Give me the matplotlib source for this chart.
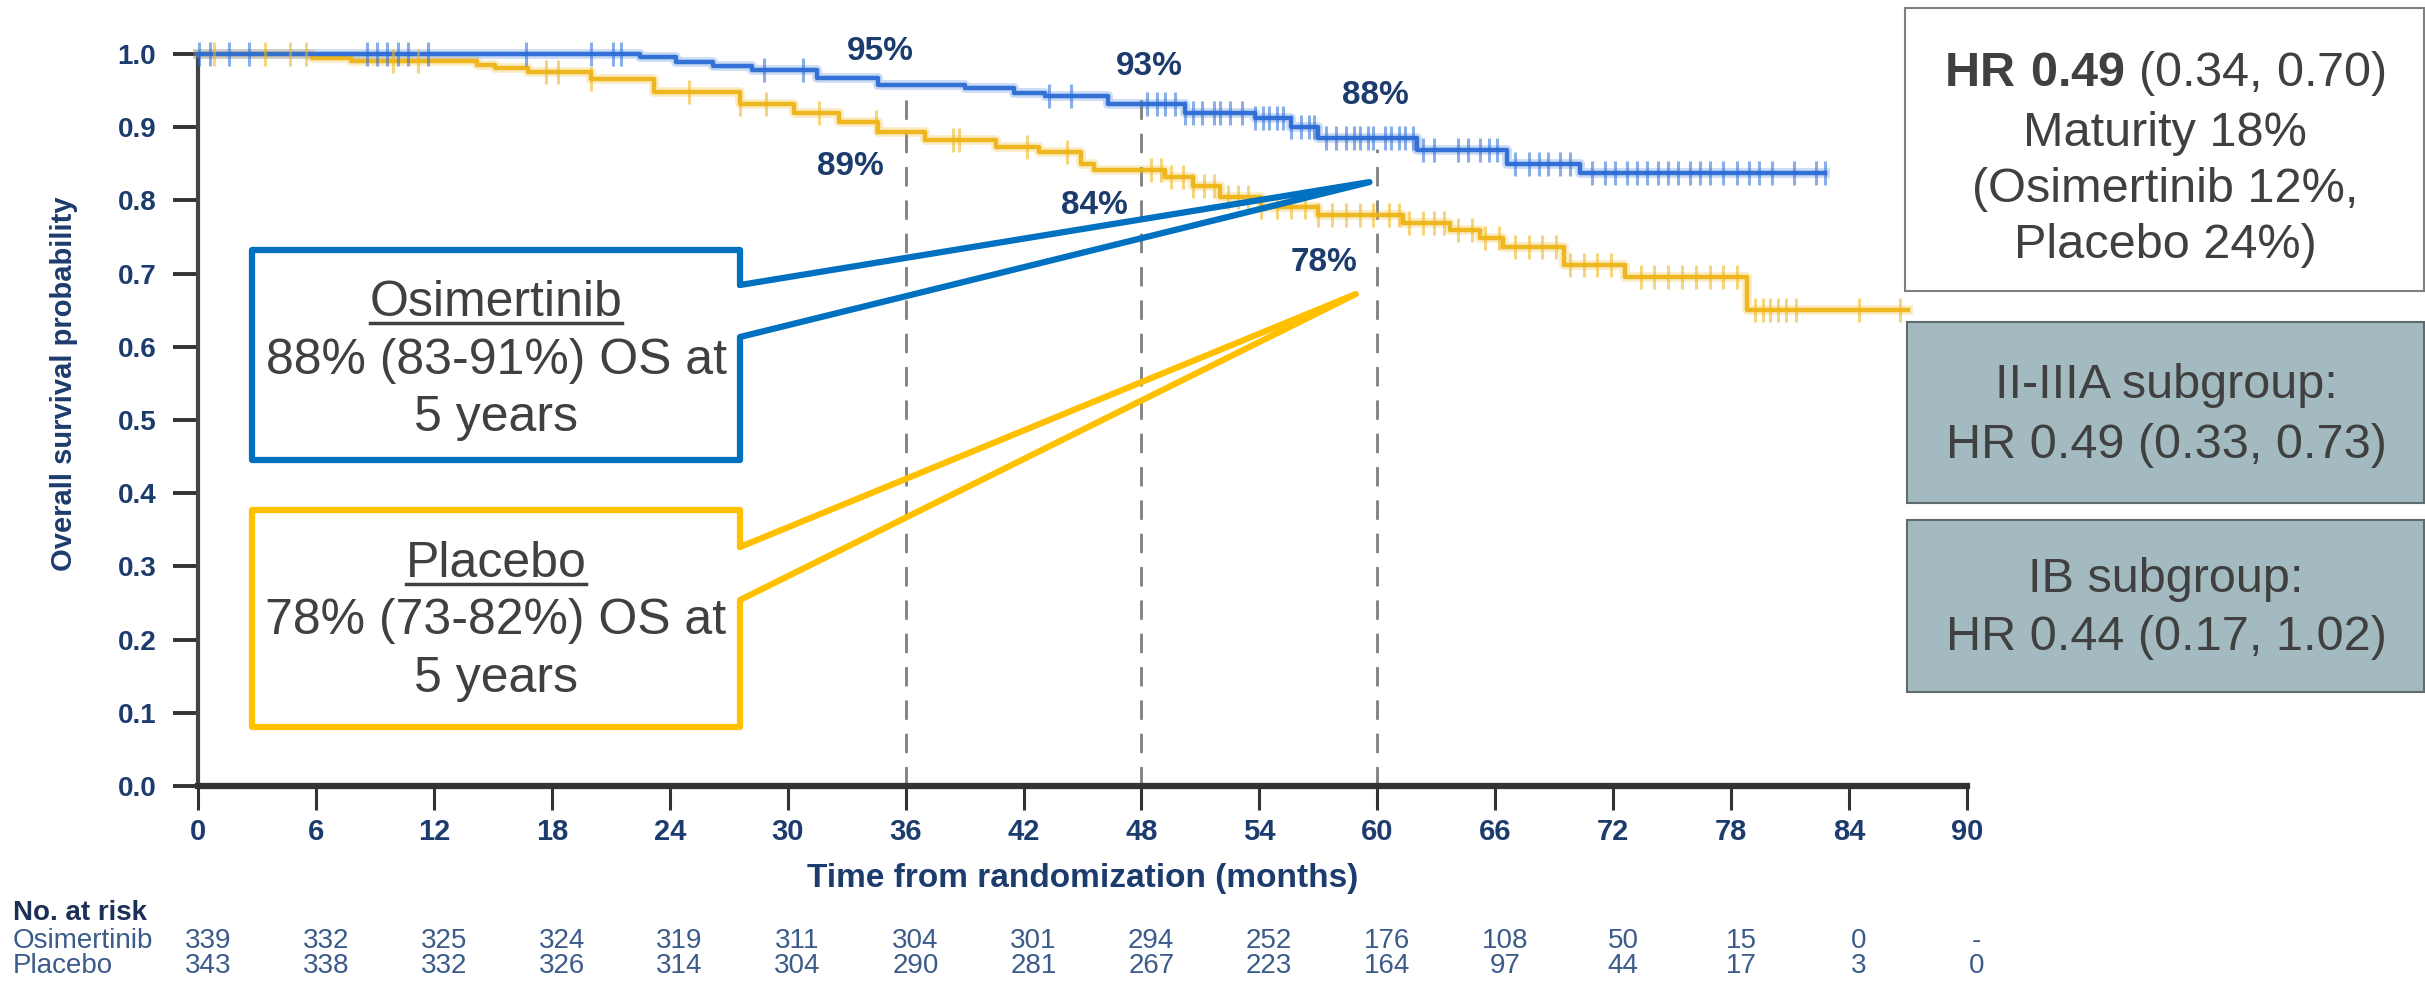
import numpy as np
import matplotlib
matplotlib.use("Agg")
import matplotlib.pyplot as plt
from matplotlib import font_manager
from matplotlib.lines import Line2D
from matplotlib.patches import Rectangle

# --- fonts ---
names = {f.name for f in font_manager.fontManager.ttflist}
SANS = "Liberation Sans" if "Liberation Sans" in names else "DejaVu Sans"
plt.rcParams["font.family"] = [SANS, "DejaVu Sans"]
plt.rcParams["mathtext.fontset"] = "custom"
plt.rcParams["mathtext.rm"] = SANS
plt.rcParams["mathtext.bf"] = SANS + ":bold"

# --- DATA ---
osi_t = [0, 22.5, 24.3, 26.2, 28.2, 31.5, 34.6, 39.0, 41.5, 43.1, 46.3, 50.2, 53.8, 55.6, 57.0, 62.0, 66.6, 70.3]
osi_p = [1.0, 0.996, 0.989, 0.983, 0.978, 0.967, 0.958, 0.954, 0.947, 0.942, 0.932, 0.920, 0.912, 0.900, 0.885, 0.869, 0.850, 0.837]
osi_end = 82.8
osi_cens = [0.05, 0.6, 1.6, 2.6, 8.6, 9.1, 9.6, 10.2, 10.7, 11.7, 16.7, 20.0, 21.1, 21.5, 28.8, 30.8,
            43.3, 44.4, 48.3, 48.8, 49.2, 49.7, 50.2, 50.6, 51.1, 51.7, 52.0, 52.5, 53.1, 53.8, 54.2,
            54.5, 54.9, 55.2, 55.6, 56.1, 56.5, 56.8, 57.4, 57.9, 58.4, 58.8, 59.1, 59.5, 59.8, 60.4,
            60.7, 61.1, 61.4, 61.8, 62.3, 62.9, 64.1, 64.6, 65.2, 65.7, 66.1, 67.0, 67.7, 68.2, 68.7,
            69.3, 69.8, 70.9, 71.6, 72.1, 72.7, 73.2, 73.7, 74.3, 74.8, 75.3, 75.9, 76.4, 76.9, 77.6,
            78.3, 78.9, 79.4, 80.1, 81.2, 82.3, 82.8]

pla_t = [0, 5.8, 7.8, 14.2, 15.1, 16.8, 20.0, 23.2, 27.6, 30.3, 32.6, 34.6, 37.0, 40.6, 42.8, 44.9,
         45.6, 49.2, 50.6, 52.0, 54.1, 57.0, 61.3, 63.7, 65.2, 66.4, 69.5, 72.6, 78.8]
pla_p = [1.0, 0.995, 0.990, 0.985, 0.981, 0.976, 0.966, 0.948, 0.932, 0.920, 0.907, 0.894, 0.882, 0.873,
         0.866, 0.850, 0.842, 0.832, 0.819, 0.805, 0.791, 0.780, 0.769, 0.760, 0.748, 0.737, 0.712, 0.696, 0.650]
pla_end = 87.0
pla_cens = [0.8, 3.4, 4.7, 5.5, 9.9, 11.2, 17.7, 18.3, 20.0, 25.0, 27.6, 28.9, 31.6, 34.5, 38.4, 38.7,
            42.2, 44.2, 48.5, 49.0, 49.5, 50.1, 50.6, 51.2, 51.7, 52.4, 52.9, 53.4, 54.1, 54.9, 55.6,
            56.3, 57.0, 57.7, 58.4, 59.1, 59.8, 60.6, 61.1, 61.6, 62.3, 62.9, 63.4, 64.1, 64.8, 65.5,
            66.2, 67.0, 67.7, 68.4, 69.1, 69.8, 70.5, 71.2, 71.9, 73.4, 74.1, 74.8, 75.5, 76.2, 76.9,
            77.6, 78.3, 79.2, 79.6, 80.0, 80.4, 80.8, 81.3, 84.5, 86.6]

landmark_months = [36, 48, 60]
landmark_tops = [0.95, 0.955, 0.87]
osi_labels = ["95%", "93%", "88%"]
pla_labels = ["89%", "84%", "78%"]
osi_label_pos = [(34.7, 1.004), (48.4, 0.983), (59.9, 0.943)]
pla_label_pos = [(33.2, 0.846), (45.6, 0.793), (57.3, 0.715)]

risk_months = list(range(0, 91, 6))
risk_osi = ["339", "332", "325", "324", "319", "311", "304", "301", "294", "252", "176", "108", "50", "15", "0", "-"]
risk_pla = ["343", "338", "332", "326", "314", "304", "290", "281", "267", "223", "164", "97", "44", "17", "3", "0"]

# --- colours ---
BLUE = "#2b6cd6"
GOLD = "#efb416"
BOX_BLUE = "#0070c0"
BOX_GOLD = "#ffc000"
NAVY = "#1d3c6e"
RISK = "#3b5b8a"
GREY_TXT = "#404040"

W, H = 2425, 989
fig = plt.figure(figsize=(W / 100, H / 100), dpi=100)


def fx(x):
    return x / W


def fy(y):
    return 1 - y / H


ax = fig.add_axes([fx(198), fy(786), fx(1967) - fx(198), fy(54) - fy(786)])


def km(ax, t, p, end, cens, color):
    xs = list(t) + [end]
    ys = list(p) + [p[-1]]
    ax.step(xs, ys, where="post", color=color, lw=7, alpha=0.25, clip_on=False, zorder=3)
    ax.step(xs, ys, where="post", color=color, lw=3.2, alpha=0.95, clip_on=False, zorder=4)
    idx = np.searchsorted(t, cens, side="right") - 1
    cy = np.array(p)[idx]
    ax.plot(cens, cy, ls="none", marker="|", ms=17, mew=2.2, color=color, alpha=0.55,
            clip_on=False, zorder=5)


km(ax, pla_t, pla_p, pla_end, pla_cens, GOLD)
km(ax, osi_t, osi_p, osi_end, osi_cens, BLUE)

for m, top in zip(landmark_months, landmark_tops):
    ax.plot([m, m], [0, top], color="#7f7f7f", lw=2, dashes=(7, 5), zorder=2)

for lab, (x, y) in zip(osi_labels + pla_labels, osi_label_pos + pla_label_pos):
    ax.text(x, y, lab, ha="center", va="center", fontsize=24, fontweight="bold", color=NAVY, zorder=6)

ax.set_xlim(0, 90)
ax.set_ylim(0, 1.0)
ax.set_xticks(risk_months)
ax.set_yticks(np.arange(0, 1.01, 0.1))
ax.set_yticklabels([f"{v:.1f}" for v in np.arange(0, 1.01, 0.1)])
for s in ["top", "right"]:
    ax.spines[s].set_visible(False)
ax.spines["left"].set_linewidth(3)
ax.spines["left"].set_color("#444444")
ax.spines["bottom"].set_linewidth(4.5)
ax.spines["bottom"].set_color("#333333")
ax.tick_params(axis="y", length=18, width=2.8, color="#333333", pad=12,
               labelsize=20, labelcolor=NAVY)
ax.tick_params(axis="x", length=17, width=2.2, color="#333333", pad=6,
               labelsize=21, labelcolor=NAVY)
for lab in ax.get_xticklabels() + ax.get_yticklabels():
    lab.set_fontweight("bold")
ax.set_xlabel("Time from randomization (months)", fontsize=24, fontweight="bold", color=NAVY, labelpad=12)
ax.set_ylabel("Overall survival probability", fontsize=21, fontweight="bold", color=NAVY, labelpad=22)
ax.yaxis.set_label_coords(-0.068, 0.55)

# --- number at risk ---
fig.text(fx(13), fy(913), "No. at risk", fontsize=20, fontweight="bold", color="#1c2f55", va="center")
fig.text(fx(13), fy(941), "Osimertinib", fontsize=20, color=RISK, va="center")
fig.text(fx(13), fy(966), "Placebo", fontsize=20, color=RISK, va="center")
for m, a, b in zip(risk_months, risk_osi, risk_pla):
    xf = fig.transFigure.inverted().transform(ax.transData.transform((m + 0.5, 0)))[0]
    fig.text(xf, fy(941), a, fontsize=20, color=RISK, ha="center", va="center")
    fig.text(xf, fy(966), b, fontsize=20, color=RISK, ha="center", va="center")


# --- callout boxes ---
def callout(x0, x1, y0, y1, n0, n1, tip, color):
    pts = [(x1, n0), (x1, y0), (x0, y0), (x0, y1), (x1, y1), (x1, n1), tip, (x1, n0)]
    xs = [fx(px) for px, _ in pts]
    ys = [fy(py) for _, py in pts]
    fig.add_artist(Line2D(xs, ys, color=color, lw=4.5, solid_joinstyle="round",
                          solid_capstyle="round", zorder=8))


tip_osi = ax.transData.transform((59.6, 0.825))
tip_pla = ax.transData.transform((58.9, 0.672))
tip_osi = (tip_osi[0], H - tip_osi[1])
tip_pla = (tip_pla[0], H - tip_pla[1])
callout(252, 740, 250, 460, 285, 337, tip_osi, BOX_BLUE)
callout(252, 740, 510, 727, 547, 600, tip_pla, BOX_GOLD)

heads = []
for name, line, ys in [("Osimertinib", "88% (83-91%) OS at", (303, 361, 418)),
                       ("Placebo", "78% (73-82%) OS at", (564, 621, 679))]:
    heads.append(fig.text(fx(496), fy(ys[0]), name, fontsize=36, color=GREY_TXT, ha="center", va="center"))
    fig.text(fx(496), fy(ys[1]), line, fontsize=36, color=GREY_TXT, ha="center", va="center")
    fig.text(fx(496), fy(ys[2]), "5 years", fontsize=36, color=GREY_TXT, ha="center", va="center")

# --- right-hand boxes ---
fig.add_artist(Rectangle((fx(1905), fy(291)), fx(2424) - fx(1905), fy(8) - fy(291),
                         facecolor="white", edgecolor="#7f7f7f", lw=1.5, zorder=9))
hr_lines = [r"$\mathbf{HR\ 0.49}$ (0.34, 0.70)", "Maturity 18%", "(Osimertinib 12%,", "Placebo 24%)"]
for txt, y in zip(hr_lines, [74, 134, 190, 246]):
    fig.text(fx(2165), fy(y), txt, fontsize=35, color=GREY_TXT, ha="center", va="center", zorder=10)

sub_boxes = [(322, 503, ["II-IIIA subgroup:", "HR 0.49 (0.33, 0.73)"], (386, 445)),
             (520, 692, ["IB subgroup:", "HR 0.44 (0.17, 1.02)"], (580, 637))]
for top, bot, lines, ys in sub_boxes:
    fig.add_artist(Rectangle((fx(1907), fy(bot)), fx(2424) - fx(1907), fy(top) - fy(bot),
                             facecolor="#a3bbc0", edgecolor="#5f6b6d", lw=1.5, zorder=9))
    for txt, y in zip(lines, ys):
        fig.text(fx(2166), fy(y), txt, fontsize=35, color=GREY_TXT, ha="center", va="center", zorder=10)

# underline the arm names
fig.canvas.draw()
rend = fig.canvas.get_renderer()
for t in heads:
    bb = t.get_window_extent(rend)
    fig.add_artist(Line2D([bb.x0 / W, bb.x1 / W], [(bb.y0 + 3) / H, (bb.y0 + 3) / H],
                          color=GREY_TXT, lw=2.5))

fig.savefig("out.png", dpi=100)
